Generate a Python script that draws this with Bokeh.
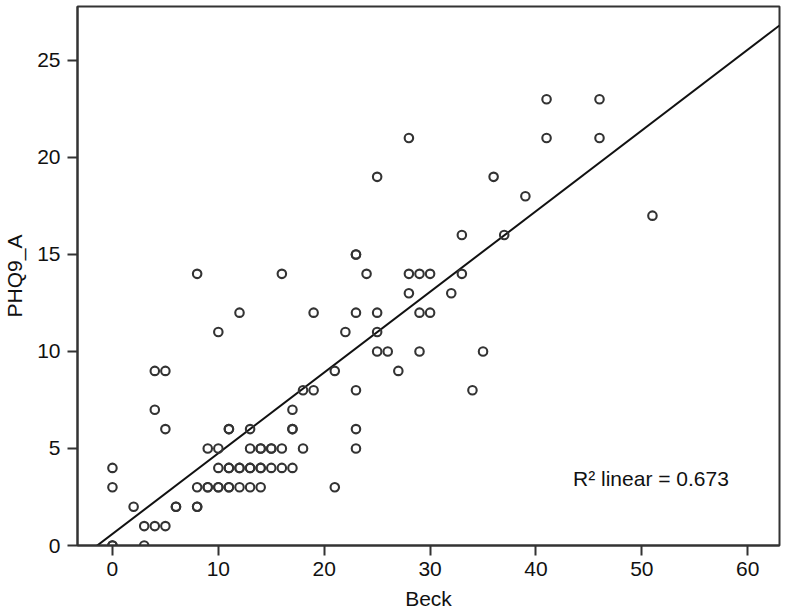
import numpy as np
from bokeh.plotting import figure
from bokeh.models import Label, FixedTicker, Range1d
from bokeh.embed import file_html
from bokeh.resources import INLINE

# Data (Beck score vs PHQ9_A); repeated pairs drawn twice
beck = [0, 0, 3,
        3, 4, 5,
        2, 6, 6, 8, 8,
        0, 8, 9, 9, 10, 10, 11, 11, 12, 13, 14, 21,
        0, 10, 11, 11, 12, 12, 13, 13, 14, 14, 15, 16, 17,
        9, 10, 13, 14, 14, 15, 15, 16, 18, 23,
        5, 11, 11, 13, 17, 17, 23,
        4, 17,
        18, 19, 23, 34,
        4, 5, 21, 27,
        25, 26, 29, 35,
        10, 22, 25,
        12, 19, 23, 25, 29, 30,
        28, 32,
        8, 16, 24, 28, 29, 30, 33,
        23, 23,
        33, 37,
        51,
        39,
        25, 36,
        28, 41, 46,
        41, 46]
phq = [0, 0, 0,
       1, 1, 1,
       2, 2, 2, 2, 2,
       3, 3, 3, 3, 3, 3, 3, 3, 3, 3, 3, 3,
       4, 4, 4, 4, 4, 4, 4, 4, 4, 4, 4, 4, 4,
       5, 5, 5, 5, 5, 5, 5, 5, 5, 5,
       6, 6, 6, 6, 6, 6, 6,
       7, 7,
       8, 8, 8, 8,
       9, 9, 9, 9,
       10, 10, 10, 10,
       11, 11, 11,
       12, 12, 12, 12, 12, 12,
       13, 13,
       14, 14, 14, 14, 14, 14, 14,
       15, 15,
       16, 16,
       17,
       18,
       19, 19,
       21, 21, 21,
       23, 23]

x_ticks = [0, 10, 20, 30, 40, 50, 60]
y_ticks = [0, 5, 10, 15, 20, 25]
r2_text = "R\u00b2 linear = 0.673"

x_lo, x_hi = -3.3, 63.0
y_lo, y_hi = 0.0, 27.78

FONT = "Liberation Sans"
AX = "#333333"
FS = "21px"

p = figure(width=778, height=612, output_backend="svg", toolbar_location=None,
           x_range=Range1d(x_lo, x_hi), y_range=Range1d(y_lo, y_hi),
           frame_width=702, frame_height=539,
           min_border_left=72, min_border_right=4, min_border_top=6,
           min_border_bottom=67)
p.background_fill_color = "white"
p.border_fill_color = "white"
p.outline_line_color = AX
p.outline_line_width = 2
p.grid.visible = False

for ax in (p.xaxis[0], p.yaxis[0]):
    ax.axis_line_color = AX
    ax.axis_line_width = 2
    ax.major_tick_line_color = AX
    ax.major_tick_line_width = 2
    ax.major_tick_out = 10
    ax.major_tick_in = 0
    ax.minor_tick_line_color = None
    ax.major_label_text_font = FONT
    ax.major_label_text_font_size = FS
    ax.major_label_text_color = "#111111"
    ax.axis_label_text_font = FONT
    ax.axis_label_text_font_size = FS
    ax.axis_label_text_font_style = "normal"
    ax.axis_label_text_color = "#111111"

p.xaxis.ticker = FixedTicker(ticks=x_ticks)
p.yaxis.ticker = FixedTicker(ticks=y_ticks)
p.xaxis.axis_label = "Beck"
p.yaxis.axis_label = "PHQ9_A"
p.xaxis.major_label_standoff = 6
p.yaxis.major_label_standoff = 7
p.xaxis.axis_label_standoff = 8
p.yaxis.axis_label_standoff = 8

# linear fit
slope, intercept = np.polyfit(np.array(beck, float), np.array(phq, float), 1)
xs = [x_lo, x_hi]
p.line(xs, [intercept + slope * v for v in xs], line_color="#111111", line_width=2)

p.scatter(beck, phq, marker="circle", size=8.5, fill_color=None,
          line_color="#333333", line_width=2.1)

p.add_layout(Label(x=43.5, y=3.45, text=r2_text, text_font=FONT,
                   text_font_size=FS, text_color="#111111",
                   text_baseline="alphabetic"))

open("out.html", "w").write(file_html(p, INLINE))
